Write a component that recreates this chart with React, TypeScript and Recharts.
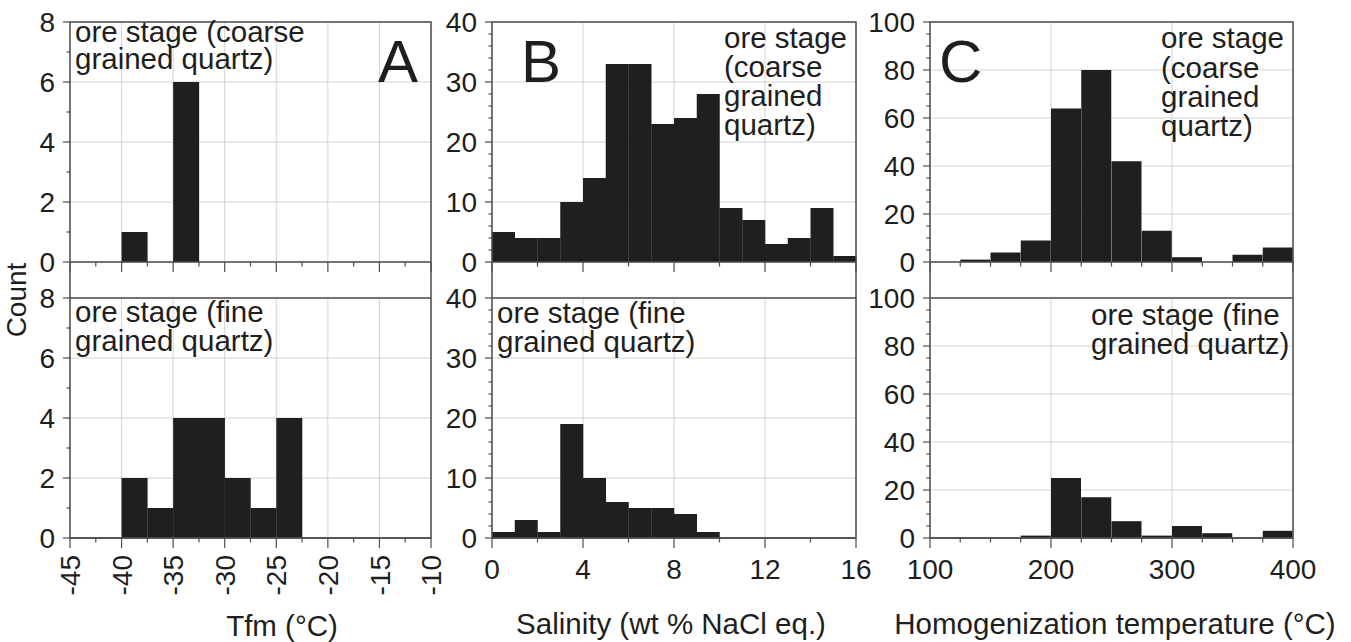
import React from 'react';
import { BarChart, Bar, XAxis, YAxis, CartesianGrid } from 'recharts';

const FONT = "'Liberation Sans', Arial, Helvetica, sans-serif";
const INK = '#1e1e1e';
const FRAME = '#4d4d4d';
const BAR = '#1f1f1f';

// A: first melting temperature, 2.5 °C bins from -45 to -10
const tfmBins = ['-45', '-42.5', '-40', '-37.5', '-35', '-32.5', '-30', '-27.5', '-25', '-22.5', '-20', '-17.5', '-15', '-12.5'];
const tfmCoarse = [0, 0, 1, 0, 6, 0, 0, 0, 0, 0, 0, 0, 0, 0];
const tfmFine = [0, 0, 2, 1, 4, 4, 2, 1, 4, 0, 0, 0, 0, 0];
const tfmTicks = [-45, -42.5, -40, -37.5, -35, -32.5, -30, -27.5, -25, -22.5, -20, -17.5, -15, -12.5, -10];
const tfmLabels = [-45, -40, -35, -30, -25, -20, -15, -10];
const tfmGrid = [-40, -35, -30, -25, -20, -15];
const tfmCountTicks = [0, 1, 2, 3, 4, 5, 6, 7, 8];
const tfmCountLabels = [0, 2, 4, 6, 8];

// B: salinity, 1 wt% bins from 0 to 16
const salBins = ['0', '1', '2', '3', '4', '5', '6', '7', '8', '9', '10', '11', '12', '13', '14', '15'];
const salCoarse = [5, 4, 4, 10, 14, 33, 33, 23, 24, 28, 9, 7, 3, 4, 9, 1];
const salFine = [1, 3, 1, 19, 10, 6, 5, 5, 4, 1, 0, 0, 0, 0, 0, 0];
const salTicks = [0, 2, 4, 6, 8, 10, 12, 14, 16];
const salLabels = [0, 4, 8, 12, 16];
const salGrid = [4, 8, 12];
const salCountTicks = [0, 2, 4, 6, 8, 10, 12, 14, 16, 18, 20, 22, 24, 26, 28, 30, 32, 34, 36, 38, 40];
const salCountLabels = [0, 10, 20, 30, 40];

// C: homogenization temperature, 25 °C bins from 100 to 400
const thBins = ['100', '125', '150', '175', '200', '225', '250', '275', '300', '325', '350', '375'];
const thCoarse = [0, 1, 4, 9, 64, 80, 42, 13, 2, 0, 3, 6];
const thFine = [0, 0, 0, 1, 25, 17, 7, 1, 5, 2, 0, 3];
const thTicks = [100, 125, 150, 175, 200, 225, 250, 275, 300, 325, 350, 375, 400];
const thLabels = [100, 200, 300, 400];
const thGrid = [200, 300];
const thCountTicks = [0, 5, 10, 15, 20, 25, 30, 35, 40, 45, 50, 55, 60, 65, 70, 75, 80, 85, 90, 95, 100];
const thCountLabels = [0, 20, 40, 60, 80, 100];

const PLOT_H = 240;
const TOP_Y = 22;
const BOTTOM_Y = 298;
const M_TOP = 20;
const M_RIGHT = 40;

const xTick = (labels: number[], mode: 'none' | 'flat' | 'rotated') => (p: any) => {
  const { x, y, payload } = p;
  const major = labels.includes(payload.value);
  return (
    <g>
      <line x1={x} x2={x} y1={y} y2={y + (major ? 10 : 4.5)} stroke={FRAME} strokeWidth={1.2} />
      {major && mode === 'flat' && (
        <text x={x} y={y + 41} textAnchor="middle" fontSize={28} fontFamily={FONT} fill={INK}>
          {String(payload.value)}
        </text>
      )}
      {major && mode === 'rotated' && (
        <text
          x={x}
          y={y + 17}
          dy="0.36em"
          transform={`rotate(-90 ${x} ${y + 17})`}
          textAnchor="end"
          fontSize={28}
          fontFamily={FONT}
          fill={INK}
        >
          {String(payload.value)}
        </text>
      )}
    </g>
  );
};

const yTick = (labels: number[]) => (p: any) => {
  const { x, y, payload } = p;
  const major = labels.includes(payload.value);
  return (
    <g>
      <line x1={x - (major ? 7 : 3.5)} x2={x} y1={y} y2={y} stroke={FRAME} strokeWidth={1.2} />
      {major && (
        <text x={x - 15} y={y} dy="0.36em" textAnchor="end" fontSize={28} fontFamily={FONT} fill={INK}>
          {String(payload.value)}
        </text>
      )}
    </g>
  );
};

interface HistProps {
  plotLeft: number;
  plotRight: number;
  plotTop: number;
  axisHeight: number;
  bins: string[];
  counts: number[];
  xTicks: number[];
  xLabels: number[];
  xGrid: number[];
  yMax: number;
  yTicks: number[];
  yLabels: number[];
  mode: 'none' | 'flat' | 'rotated';
}

const Hist: React.FC<HistProps> = ({
  plotLeft, plotRight, plotTop, axisHeight, bins, counts, xTicks, xLabels, xGrid, yMax, yTicks, yLabels, mode,
}) => {
  const data = bins.map((b, i) => ({ bin: b, lo: Number(b), count: counts[i] }));
  const domain: [number, number] = [xTicks[0], xTicks[xTicks.length - 1]];
  const yGrid = yLabels.filter(v => v > 0 && v < yMax);
  return (
    <div style={{ position: 'absolute', left: plotLeft - 70, top: plotTop - M_TOP }}>
      <BarChart
        width={plotRight - plotLeft + 70 + M_RIGHT}
        height={M_TOP + PLOT_H + axisHeight}
        data={data}
        margin={{ top: M_TOP, right: M_RIGHT, bottom: 0, left: 0 }}
        barCategoryGap={0}
        barGap={0}
      >
        <XAxis
          xAxisId="ax"
          dataKey="lo"
          type="number"
          domain={domain}
          ticks={xTicks}
          allowDataOverflow
          interval={0}
          height={axisHeight}
          tickSize={0}
          tickMargin={0}
          tickLine={false}
          axisLine={{ stroke: FRAME, strokeWidth: 1.4 }}
          tick={xTick(xLabels, mode)}
        />
        <YAxis
          yAxisId="ay"
          type="number"
          domain={[0, yMax]}
          ticks={yTicks}
          allowDataOverflow
          interval={0}
          width={70}
          tickSize={0}
          tickMargin={0}
          tickLine={false}
          axisLine={false}
          tick={yTick(yLabels)}
        />
        {/* helper axes: zero size so they never push the visible ones */}
        <XAxis xAxisId="zbins" dataKey="bin" type="category" height={0} hide />
        <XAxis xAxisId="zgx" dataKey="lo" type="number" domain={domain} ticks={xGrid} allowDataOverflow height={0} hide />
        <YAxis yAxisId="zgy" type="number" domain={[0, yMax]} ticks={yGrid} allowDataOverflow width={0} hide />
        <CartesianGrid xAxisId="zgx" yAxisId="zgy" stroke="#d4d4d4" strokeWidth={1} />
        <Bar xAxisId="zbins" yAxisId="ay" dataKey="count" fill={BAR} isAnimationActive={false} />
      </BarChart>
    </div>
  );
};

const columns = [
  { left: 70, right: 431 },
  { left: 492, right: 856 },
  { left: 930, right: 1293 },
];

const textStyle = { fontFamily: FONT, fill: INK } as const;

const App: React.FC = () => {
  return (
    <div style={{ position: 'absolute', left: 0, top: 0, width: 1351, height: 642, background: '#fff', overflow: 'hidden' }}>
      <Hist plotLeft={70} plotRight={431} plotTop={TOP_Y} axisHeight={20} bins={tfmBins} counts={tfmCoarse}
        xTicks={tfmTicks} xLabels={tfmLabels} xGrid={tfmGrid} yMax={8} yTicks={tfmCountTicks} yLabels={tfmCountLabels} mode="none" />
      <Hist plotLeft={70} plotRight={431} plotTop={BOTTOM_Y} axisHeight={90} bins={tfmBins} counts={tfmFine}
        xTicks={tfmTicks} xLabels={tfmLabels} xGrid={tfmGrid} yMax={8} yTicks={tfmCountTicks} yLabels={tfmCountLabels} mode="rotated" />

      <Hist plotLeft={492} plotRight={856} plotTop={TOP_Y} axisHeight={20} bins={salBins} counts={salCoarse}
        xTicks={salTicks} xLabels={salLabels} xGrid={salGrid} yMax={40} yTicks={salCountTicks} yLabels={salCountLabels} mode="none" />
      <Hist plotLeft={492} plotRight={856} plotTop={BOTTOM_Y} axisHeight={90} bins={salBins} counts={salFine}
        xTicks={salTicks} xLabels={salLabels} xGrid={salGrid} yMax={40} yTicks={salCountTicks} yLabels={salCountLabels} mode="flat" />

      <Hist plotLeft={930} plotRight={1293} plotTop={TOP_Y} axisHeight={20} bins={thBins} counts={thCoarse}
        xTicks={thTicks} xLabels={thLabels} xGrid={thGrid} yMax={100} yTicks={thCountTicks} yLabels={thCountLabels} mode="none" />
      <Hist plotLeft={930} plotRight={1293} plotTop={BOTTOM_Y} axisHeight={90} bins={thBins} counts={thFine}
        xTicks={thTicks} xLabels={thLabels} xGrid={thGrid} yMax={100} yTicks={thCountTicks} yLabels={thCountLabels} mode="flat" />

      <svg width={1351} height={642} style={{ position: 'absolute', left: 0, top: 0, pointerEvents: 'none' }}>
        {columns.map(c => (
          <g key={c.left}>
            <rect x={c.left} y={TOP_Y} width={c.right - c.left} height={BOTTOM_Y + PLOT_H - TOP_Y}
              fill="none" stroke={FRAME} strokeWidth={1.5} />
            <line x1={c.left} x2={c.right} y1={BOTTOM_Y} y2={BOTTOM_Y} stroke={FRAME} strokeWidth={1.3} />
          </g>
        ))}

        <text x={26} y={300} transform="rotate(-90 26 300)" textAnchor="middle" fontSize={28} {...textStyle}>Count</text>

        {/* A */}
        <text x={75} y={42} fontSize={29.5} {...textStyle}>ore stage (coarse</text>
        <text x={75} y={69} fontSize={29.5} {...textStyle}>grained quartz)</text>
        <text x={378} y={82} fontSize={60} {...textStyle}>A</text>
        <text x={75} y={322} fontSize={29.5} {...textStyle}>ore stage (fine</text>
        <text x={75} y={351} fontSize={29.5} {...textStyle}>grained quartz)</text>
        <text x={282} y={636} textAnchor="middle" fontSize={29.5} {...textStyle}>Tfm (°C)</text>

        {/* B */}
        <text x={521} y={82} fontSize={60} {...textStyle}>B</text>
        <text x={724} y={48} fontSize={29.5} {...textStyle}>ore stage</text>
        <text x={724} y={77} fontSize={29.5} {...textStyle}>(coarse</text>
        <text x={724} y={106} fontSize={29.5} {...textStyle}>grained</text>
        <text x={724} y={135} fontSize={29.5} {...textStyle}>quartz)</text>
        <text x={497} y={323} fontSize={29.5} {...textStyle}>ore stage (fine</text>
        <text x={497} y={352} fontSize={29.5} {...textStyle}>grained quartz)</text>
        <text x={671} y={634} textAnchor="middle" fontSize={29.5} {...textStyle}>Salinity (wt % NaCl eq.)</text>

        {/* C */}
        <text x={939} y={82} fontSize={60} {...textStyle}>C</text>
        <text x={1161} y={48} fontSize={29.5} {...textStyle}>ore stage</text>
        <text x={1161} y={78} fontSize={29.5} {...textStyle}>(coarse</text>
        <text x={1161} y={107} fontSize={29.5} {...textStyle}>grained</text>
        <text x={1161} y={136} fontSize={29.5} {...textStyle}>quartz)</text>
        <text x={1091} y={325} fontSize={29.5} {...textStyle}>ore stage (fine</text>
        <text x={1091} y={354} fontSize={29.5} {...textStyle}>grained quartz)</text>
        <text x={1115} y={634} textAnchor="middle" fontSize={29.5} {...textStyle}>Homogenization temperature (°C)</text>
      </svg>
    </div>
  );
};

export default App;
